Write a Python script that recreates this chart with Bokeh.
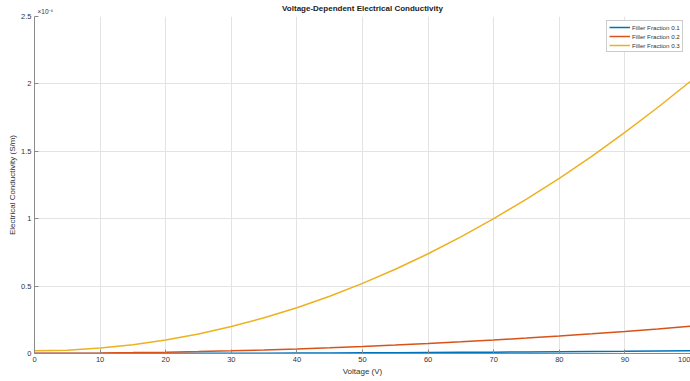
from bokeh.plotting import figure
from bokeh.models import Range1d, Legend, LegendItem, FixedTicker, LinearAxis
from bokeh.embed import file_html
from bokeh.resources import INLINE

# Voltage (V)
voltage = [0, 5, 10, 15, 20, 25, 30, 35, 40, 45, 50, 55, 60, 65, 70, 75, 80, 85, 90, 95, 100]
# Electrical conductivity in units of 1e-6 S/m
sigma_01 = [0.0002, 0.00025, 0.0004, 0.00065, 0.0010, 0.00145, 0.0020, 0.00265, 0.0034, 0.00425, 0.0052,
            0.00625, 0.0074, 0.00865, 0.0100, 0.01145, 0.0130, 0.01465, 0.0164, 0.01825, 0.0202]
sigma_02 = [0.002, 0.0025, 0.004, 0.0065, 0.010, 0.0145, 0.020, 0.0265, 0.034, 0.0425, 0.052,
            0.0625, 0.074, 0.0865, 0.100, 0.1145, 0.130, 0.1465, 0.164, 0.1825, 0.202]
sigma_03 = [0.020, 0.025, 0.040, 0.065, 0.100, 0.145, 0.200, 0.265, 0.340, 0.425, 0.520,
            0.625, 0.740, 0.865, 1.000, 1.145, 1.300, 1.465, 1.640, 1.825, 2.020]
series_names = ["Filler Fraction 0.1", "Filler Fraction 0.2", "Filler Fraction 0.3"]
colors = ["#0072BD", "#D95319", "#EDB120"]
x_ticks = [0, 10, 20, 30, 40, 50, 60, 70, 80, 90, 100]
y_ticks = [0, 0.5, 1, 1.5, 2, 2.5]
y_tick_labels = ["0", "0.5", "1", "1.5", "2", "2.5"]
title_text = "Voltage-Dependent Electrical Conductivity"
exponent_text = "×10⁻⁶"
exponent_anchor = 1.65  # x position (V) of the exponent marker above the y axis

FONT = "Liberation Sans"
TEXT = "#333333"
AXIS = "#8a8a8a"

p = figure(width=690, height=381, output_backend="svg", toolbar_location=None, title=None,
           x_range=Range1d(0, 100), y_range=Range1d(0, 2.5),
           min_border_left=34, min_border_right=0, min_border_top=16, min_border_bottom=28)
p.outline_line_color = None
p.background_fill_color = "white"
p.border_fill_color = "white"

renderers = []
for ys, c in zip([sigma_01, sigma_02, sigma_03], colors):
    r = p.line(voltage, ys, line_color=c, line_width=1.5)
    renderers.append(r)

for ax in (p.xaxis[0], p.yaxis[0]):
    ax.axis_line_color = AXIS
    ax.major_tick_line_color = AXIS
    ax.major_tick_in = 4
    ax.major_tick_out = 0
    ax.minor_tick_line_color = None
    ax.major_label_text_font = FONT
    ax.major_label_text_font_size = "7.5px"
    ax.major_label_text_color = TEXT
    ax.axis_label_text_font = FONT
    ax.axis_label_text_font_size = "8px"
    ax.axis_label_text_font_style = "normal"
    ax.axis_label_text_color = TEXT

p.xaxis.ticker = FixedTicker(ticks=x_ticks)
p.yaxis.ticker = FixedTicker(ticks=y_ticks)
p.yaxis.major_label_overrides = {t: l for t, l in zip(y_ticks, y_tick_labels)}
p.xaxis.axis_label = "Voltage (V)"
p.yaxis.axis_label = "Electrical Conductivity (S/m)"
p.xaxis.major_label_standoff = 3
p.xaxis.axis_label_standoff = 2
p.yaxis.major_label_standoff = 3
p.yaxis.axis_label_standoff = 1

# top axis carrying the exponent marker (as its tick label) and the title (as its axis label)
top = LinearAxis(ticker=FixedTicker(ticks=[exponent_anchor]),
                 major_label_overrides={exponent_anchor: exponent_text},
                 axis_label=title_text)
top.axis_line_color = None
top.major_tick_line_color = None
top.minor_tick_line_color = None
top.major_tick_in = 0
top.major_tick_out = 0
top.major_label_standoff = 2
top.major_label_text_font = FONT
top.major_label_text_font_size = "6.5px"
top.major_label_text_color = TEXT
top.axis_label_text_font = FONT
top.axis_label_text_font_size = "8px"
top.axis_label_text_font_style = "bold"
top.axis_label_text_color = "#222222"
top.axis_label_standoff = -8
p.add_layout(top, "above")

p.xgrid.ticker = FixedTicker(ticks=x_ticks)
p.ygrid.ticker = FixedTicker(ticks=y_ticks)
p.grid.grid_line_color = "#e3e3e3"
p.grid.grid_line_width = 1

legend = Legend(items=[LegendItem(label=n, renderers=[r]) for n, r in zip(series_names, renderers)],
                location=(572, 301))
legend.label_text_font = FONT
legend.label_text_font_size = "6.2px"
legend.label_text_color = TEXT
legend.glyph_width = 21
legend.glyph_height = 8
legend.label_height = 8
legend.label_standoff = 2
legend.spacing = 1
legend.padding = 2
legend.margin = 0
legend.border_line_color = "#9a9a9a"
legend.border_line_width = 1
legend.background_fill_color = "white"
legend.background_fill_alpha = 1
p.add_layout(legend, "center")

open("out.html", "w").write(file_html(p, INLINE))
